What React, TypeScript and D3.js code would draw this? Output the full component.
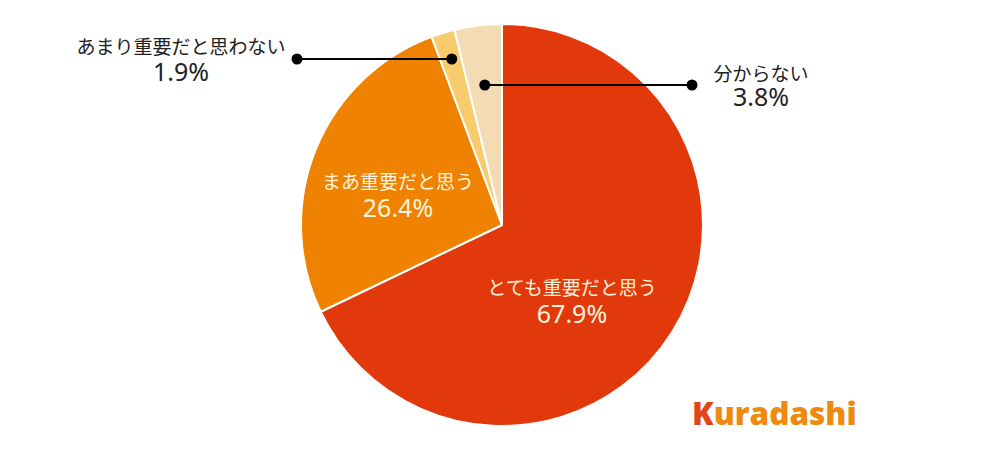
import React from "react";
import * as d3 from "d3";

const categories = ["とても重要だと思う", "まあ重要だと思う", "あまり重要だと思わない", "分からない"];
const values = [67.9, 26.4, 1.9, 3.8];
const colors = ["#e2390c", "#ef8200", "#f8cc6c", "#f3dcb4"];

const W = 1004, H = 450;
const cx = 502, cy = 225, R = 201;

export default function App() {
  const pie = d3.pie<number>().sort(null).startAngle(0).endAngle(2 * Math.PI);
  const arcs = pie(values);
  const arc = d3.arc<d3.PieArcDatum<number>>().innerRadius(0).outerRadius(R);
  const jp = "'Noto Sans CJK JP', 'Noto Sans', sans-serif";
  const num = "'Noto Sans', 'Open Sans', sans-serif";
  const labelFill = "#fdf3dc";
  const jpSize = 19;
  const numSize = 25;

  const callout = (i: number, rf: number) => {
    const a = arcs[i];
    const m = (a.startAngle + a.endAngle) / 2;
    return [cx + Math.sin(m) * R * rf, cy - Math.cos(m) * R * rf];
  };
  const c2 = callout(2, 0.85);
  const c3 = callout(3, 0.72);

  const label = (i: number, x: number, y1: number, y2: number, fill: string) => (
    <g>
      <text x={x} y={y1} textAnchor="middle" fontFamily={jp} fontSize={jpSize} fill={fill}>{categories[i]}</text>
      <text x={x} y={y2} textAnchor="middle" fontFamily={num} fontSize={numSize} fill={fill}>{values[i].toFixed(1)}%</text>
    </g>
  );

  return (
    <svg width={W} height={H} style={{ display: "block", position: "absolute", left: 0, top: 0 }}>
      <rect width={W} height={H} fill="#fff" />
      <g transform={`translate(${cx},${cy})`}>
        {arcs.map((a, i) => (
          <path key={i} d={arc(a) || ""} fill={colors[i]} stroke="#fff" strokeWidth={2} strokeLinejoin="round" />
        ))}
      </g>
      {label(0, 572, 295, 323, labelFill)}
      {label(1, 398, 189, 217, labelFill)}
      {/* callout for 1.9% */}
      <line x1={c2[0]} y1={59} x2={297} y2={59} stroke="#000" strokeWidth={2} />
      <circle cx={c2[0]} cy={59} r={5.5} fill="#000" />
      <circle cx={297} cy={59} r={5.5} fill="#000" />
      {label(2, 181, 54, 81, "#222")}
      {/* callout for 3.8% */}
      <line x1={c3[0]} y1={85} x2={692} y2={85} stroke="#000" strokeWidth={2} />
      <circle cx={c3[0]} cy={85} r={5.5} fill="#000" />
      <circle cx={692} cy={85} r={5.5} fill="#000" />
      {label(3, 761, 81, 106, "#222")}
      {/* logo */}
      <text x={692} y={425} fontFamily="'Open Sans', 'DejaVu Sans', sans-serif" fontWeight={800} fontSize={31.5} fill="#ef8a10">
        <tspan fill="#e0461a">K</tspan>uradashi
      </text>
    </svg>
  );
}
